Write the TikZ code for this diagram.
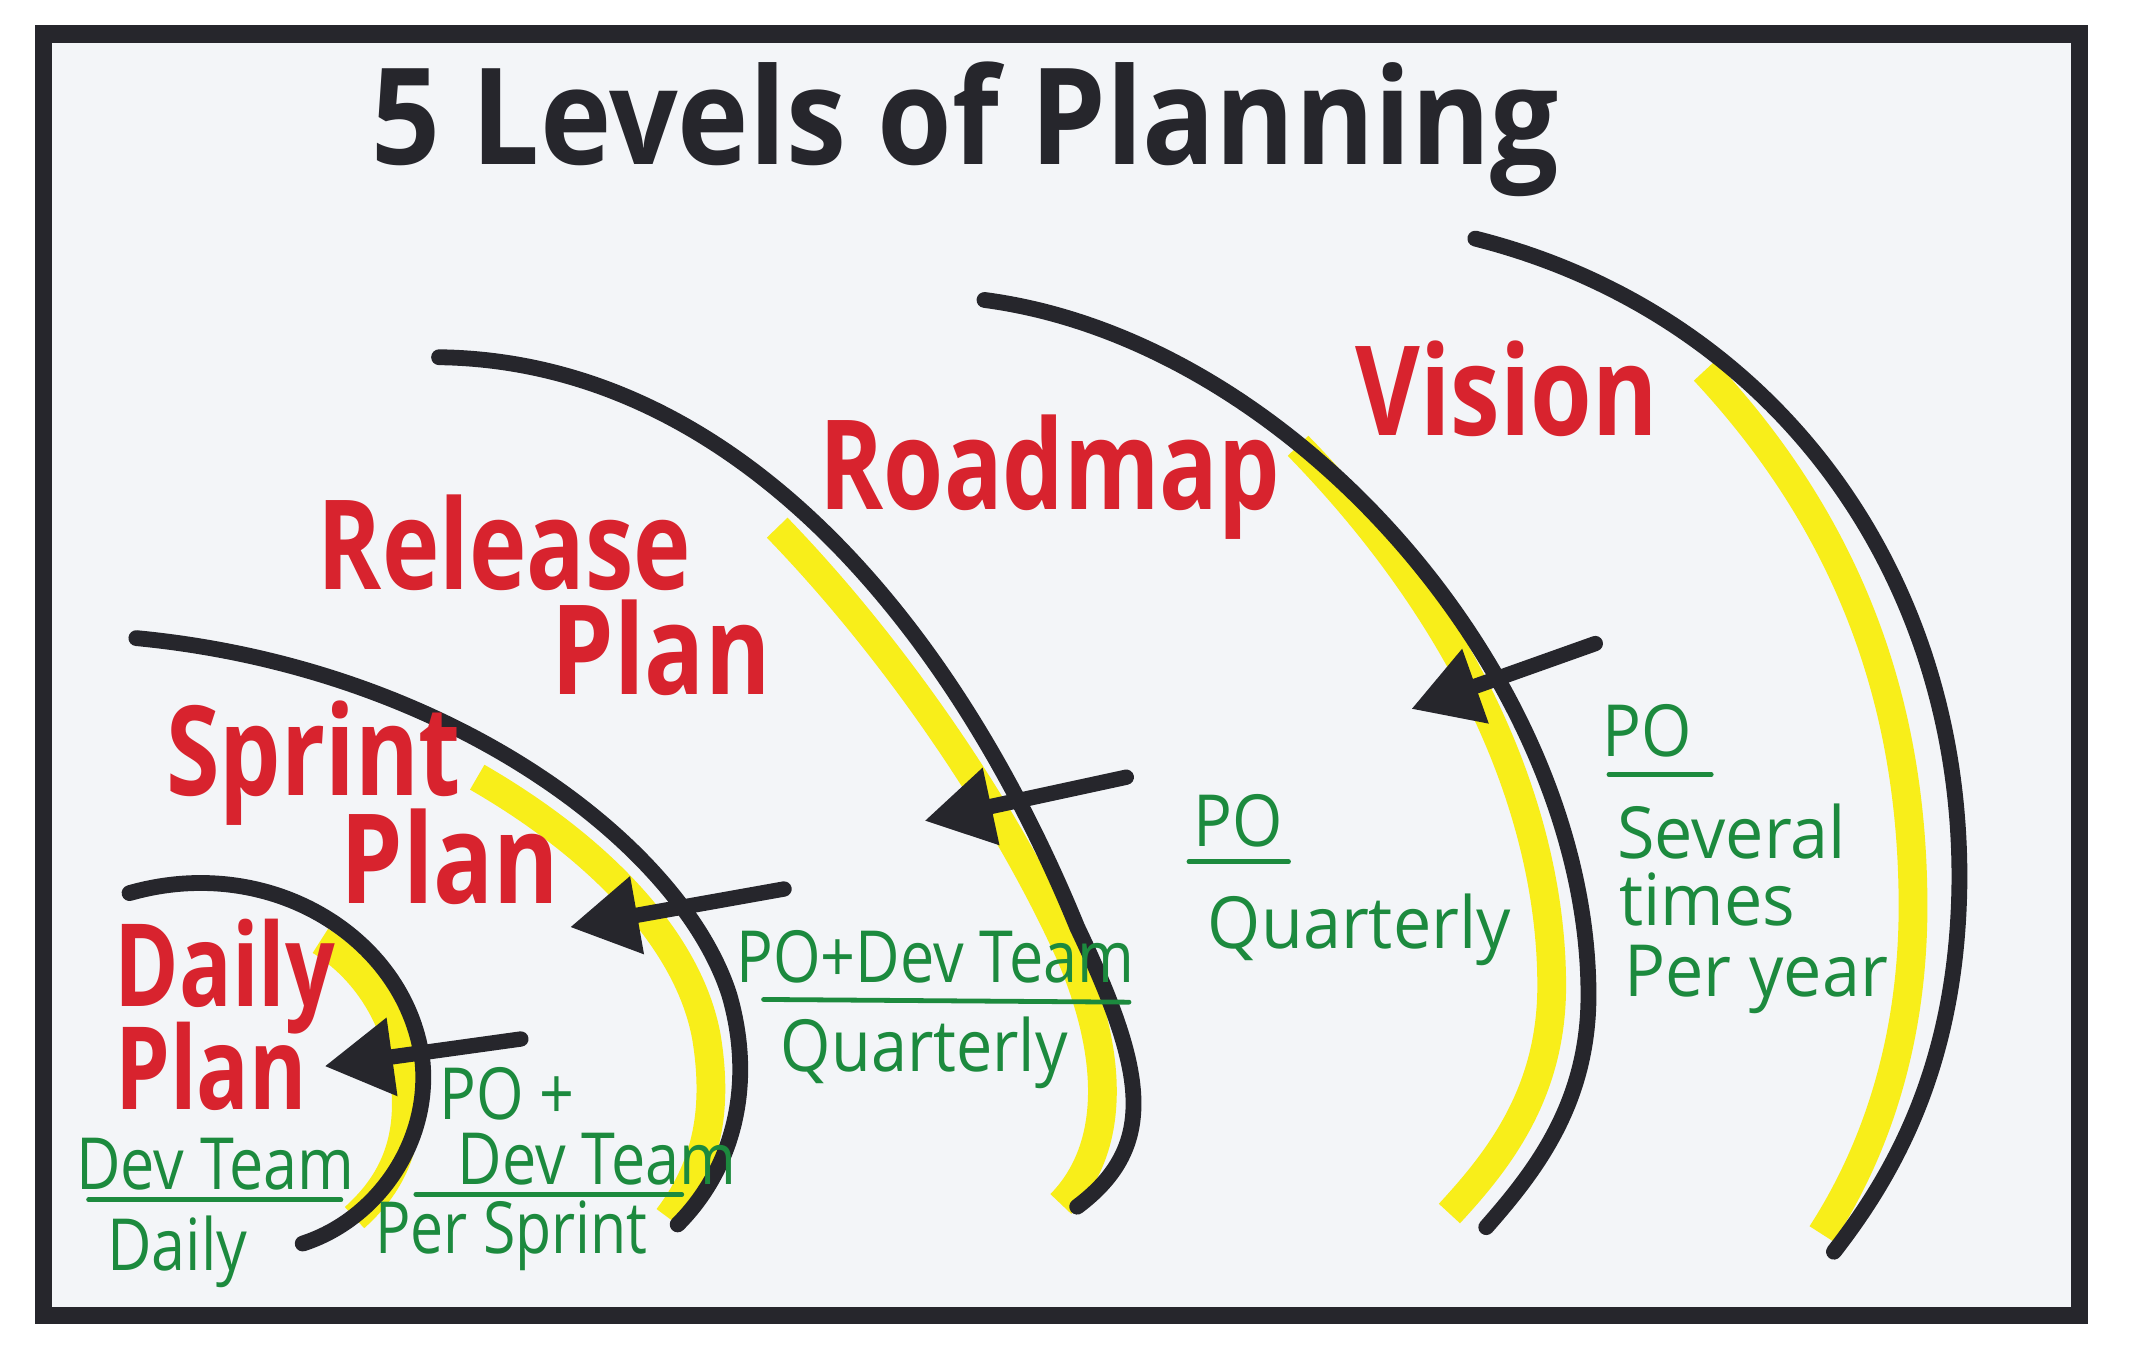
\documentclass[tikz,border=0pt]{standalone}
\usepackage{fontspec}
\setmainfont{Open Sans}
\usetikzlibrary{arrows.meta}
\definecolor{ink}{HTML}{26262C}
\definecolor{hl}{HTML}{F8EE1A}
\definecolor{redm}{HTML}{D8232E}
\definecolor{greenm}{HTML}{1C8A3E}
\definecolor{paper}{HTML}{F3F5F8}
\newcommand{\nar}[2][0.8]{\scalebox{#1}[1]{#2}}
\begin{document}
\begin{tikzpicture}[x=0.1mm,y=-0.1mm,
  arcline/.style={draw=ink,line width=3.3pt,line cap=round},
  hiline/.style={draw=hl,line width=6pt},
  pointer/.style={draw=ink,line width=3.2pt,line cap=round,-{Triangle[length=5mm,width=5.5mm]}},
  levellabel/.style={text=redm,font=\fontsize{26}{28}\selectfont\bfseries,inner sep=0pt},
  smalllevel/.style={text=redm,font=\fontsize{24}{26}\selectfont\bfseries,inner sep=0pt},
  notetext/.style={text=greenm,font=\fontsize{15}{17}\selectfont,inner sep=0pt},
  noterule/.style={draw=greenm,line width=1pt,line cap=round},
  titletext/.style={text=ink,font=\fontsize{28}{32}\selectfont\bfseries,inner sep=0pt}
]
\useasboundingbox (0,0) rectangle (1568,990);
\fill[white] (0,0) rectangle (1568,990);
\draw[draw=ink,fill=paper,line width=3.6pt] (32,25) rectangle (1525,965);

% title
\node[titletext] (title) at (708,95) {\nar[0.9]{5 Levels of Planning}};

% yellow highlights
\draw[hiline] (235,690) .. controls (275,715) and (298,760) .. (298,810) .. controls (298,850) and (280,875) .. (260,893);
\draw[hiline] (350,570) .. controls (440,622) and (505,690) .. (518,760) .. controls (528,820) and (515,860) .. (490,893);
\draw[hiline] (570,387) .. controls (660,480) and (740,600) .. (785,700) .. controls (815,770) and (820,840) .. (778,883);
\draw[hiline] (952,327) .. controls (1072,450) and (1137,590) .. (1138,720) .. controls (1139,800) and (1100,850) .. (1063,890);
\draw[hiline] (1250,272) .. controls (1360,390) and (1402,520) .. (1403,660) .. controls (1404,780) and (1365,860) .. (1336,905);

% black arcs
\draw[arcline] (95,655) .. controls (200,625) and (300,690) .. (310,780) .. controls (315,840) and (275,895) .. (222,912);
\draw[arcline] (100,468) .. controls (330,490) and (500,620) .. (535,730) .. controls (555,800) and (535,860) .. (497,898);
\draw[arcline] (322,262) .. controls (540,265) and (700,460) .. (790,680) .. controls (840,785) and (850,840) .. (790,885);
\draw[arcline] (722,220) .. controls (950,250) and (1165,500) .. (1165,730) .. controls (1165,810) and (1125,860) .. (1090,900);
\draw[arcline] (1082,175) .. controls (1300,230) and (1440,420) .. (1437,650) .. controls (1435,780) and (1390,860) .. (1345,918);

% arrow end points
\coordinate (dt) at (382,762);  \coordinate (dh) at (238,782);
\coordinate (st) at (575,652);  \coordinate (sh) at (418,680);
\coordinate (rt) at (826,570);  \coordinate (rh) at (678,602);
\coordinate (vt) at (1170,472); \coordinate (vh) at (1035,520);
\draw[pointer] (dt) -- (dh);
\draw[pointer] (st) -- (sh);
\draw[pointer] (rt) -- (rh);
\draw[pointer] (vt) -- (vh);

% red level labels
\node[levellabel] (vision) at (1105,285) {\nar[0.8]{Vision}};
\node[levellabel] (roadmap) at (770,350) {\nar[0.78]{Roadmap}};
\node[levellabel] (release) at (370,398) {\nar[0.78]{Release}};
\node[levellabel] (releaseplan) at (485,475) {\nar[0.8]{Plan}};
\node[levellabel] (sprint) at (230,560) {\nar[0.78]{Sprint}};
\node[levellabel] (sprintplan) at (330,628) {\nar[0.8]{Plan}};
\node[smalllevel] (daily) at (165,716) {\nar[0.76]{Daily}};
\node[smalllevel] (dailyplan) at (155,782) {\nar[0.76]{Plan}};

% green notes
\node[notetext] (d1) at (158,854) {\nar[0.85]{Dev Team}};
\draw[noterule] (65,880) -- (250,880);
\node[notetext] (d2) at (130,918) {\nar[0.85]{Daily}};

\node[notetext] (s1) at (372,802) {\nar[0.85]{PO +}};
\node[notetext] (s2) at (438,850) {\nar[0.85]{Dev Team}};
\draw[noterule] (305,876) -- (500,876);
\node[notetext] (s3) at (375,906) {\nar[0.82]{Per Sprint}};

\node[notetext] (r1) at (686,702) {\nar[0.85]{PO+Dev Team}};
\draw[noterule] (560,733) -- (828,735);
\node[notetext] (r2) at (678,772) {\nar[0.9]{Quarterly}};

\node[notetext] (m1) at (908,602) {\nar[0.9]{PO}};
\draw[noterule] (872,632) -- (945,632);
\node[notetext] (m2) at (997,682) {\nar[0.95]{Quarterly}};

\node[notetext] (v1) at (1208,536) {\nar[0.9]{PO}};
\draw[noterule] (1180,568) -- (1255,568);
\node[notetext] (v2) at (1270,610) {\nar[0.95]{Several}};
\node[notetext] (v3) at (1252,660) {\nar[0.95]{times}};
\node[notetext] (v4) at (1288,718) {\nar[0.95]{Per year}};
\end{tikzpicture}
\end{document}
